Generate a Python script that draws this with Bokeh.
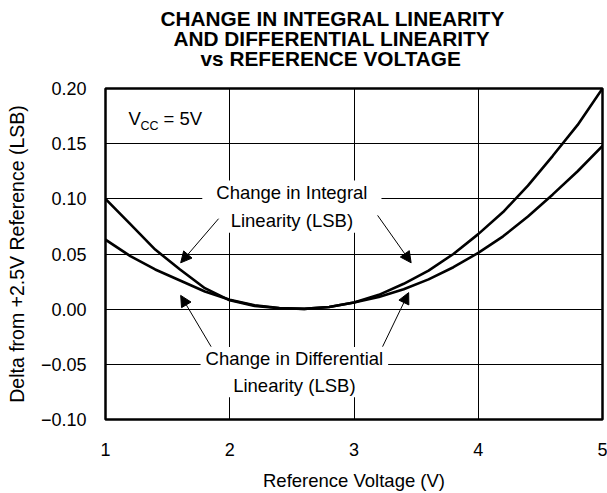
from bokeh.plotting import figure
from bokeh.models import Range1d, FixedTicker, Label, Arrow, NormalHead, Title
from bokeh.embed import file_html
from bokeh.resources import INLINE

# ---- data ----
ref_voltage = [1.0, 1.2, 1.4, 1.6, 1.8, 2.0, 2.2, 2.4, 2.6, 2.8, 3.0,
               3.2, 3.4, 3.6, 3.8, 4.0, 4.2, 4.4, 4.6, 4.8, 5.0]
integral = [0.100, 0.077, 0.054, 0.036, 0.019, 0.008, 0.003, 0.0008, 0.0003, 0.002, 0.006,
            0.013, 0.023, 0.035, 0.050, 0.068, 0.088, 0.112, 0.139, 0.167, 0.200]
differential = [0.063, 0.048, 0.036, 0.026, 0.016, 0.0085, 0.0035, 0.001, 0.0003, 0.002, 0.006,
                 0.011, 0.018, 0.027, 0.038, 0.051, 0.066, 0.084, 0.104, 0.125, 0.148]

x_ticks = [1, 2, 3, 4, 5]
y_ticks = [-0.10, -0.05, 0.0, 0.05, 0.10, 0.15, 0.20]
y_tick_labels = ["\u22120.10", "\u22120.05", "0.00", "0.05", "0.10", "0.15", "0.20"]

title_lines = ["CHANGE IN INTEGRAL LINEARITY",
               "AND DIFFERENTIAL LINEARITY",
               "vs REFERENCE VOLTAGE"]
# left offsets (px from frame left) that centre each line
title_offsets = [55, 68, 95]

x_label = "Reference Voltage (V)"
y_label = "Delta from +2.5V Reference (LSB)"

integral_label = "Change in Integral\nLinearity (LSB)"
integral_label_pos = (2.5, 0.093)
integral_arrows = [((1.91, 0.082), (1.605, 0.042)),
                   ((3.19, 0.085), (3.46, 0.042))]

diff_label = "Change in Differential\nLinearity (LSB)"
diff_label_pos = (2.52, -0.057)
diff_arrows = [((1.85, -0.034), (1.605, 0.0125)),
               ((3.23, -0.034), (3.44, 0.015))]

vcc_pos = (1.185, 0.1732)

FONT = "Liberation Sans"
FS = "18.5px"

p = figure(width=607, height=493,
           x_range=Range1d(1, 5), y_range=Range1d(-0.1, 0.2),
           output_backend="svg", toolbar_location=None,
           min_border_left=105, min_border_right=5,
           min_border_top=88, min_border_bottom=69)

p.background_fill_color = "white"
p.border_fill_color = "white"
p.outline_line_color = "black"
p.outline_line_width = 2.5

for ax in (p.xaxis, p.yaxis):
    ax.axis_line_color = None
    ax.major_tick_line_color = None
    ax.minor_tick_line_color = None
    ax.major_label_text_font = FONT
    ax.major_label_text_font_size = "18px"
    ax.major_label_text_color = "black"
    ax.axis_label_text_font = FONT
    ax.axis_label_text_font_size = FS
    ax.axis_label_text_font_style = "normal"
    ax.axis_label_text_color = "black"
p.yaxis.axis_label_text_font_size = "19.5px"

p.xaxis.ticker = FixedTicker(ticks=x_ticks)
p.yaxis.ticker = FixedTicker(ticks=y_ticks)
p.yaxis.major_label_overrides = {t: s for t, s in zip(y_ticks, y_tick_labels)}
p.xaxis.major_label_standoff = 17
p.yaxis.major_label_standoff = 13
p.xaxis.axis_label = x_label
p.yaxis.axis_label = y_label
p.xaxis.axis_label_standoff = 11
p.yaxis.axis_label_standoff = 10

p.xgrid.ticker = FixedTicker(ticks=x_ticks)
p.ygrid.ticker = FixedTicker(ticks=y_ticks)
for g in (p.xgrid, p.ygrid):
    g.grid_line_color = "black"
    g.grid_line_width = 1

p.line(ref_voltage, integral, line_color="black", line_width=2.6)
p.line(ref_voltage, differential, line_color="black", line_width=2.6)

# spacer panel between the frame and the title block
p.add_layout(Title(text=" ", standoff=-2, text_font=FONT, text_font_size=FS), "above")
for txt, off in reversed(list(zip(title_lines, title_offsets))):
    p.add_layout(Title(text=txt, align="left", offset=off, standoff=-5,
                       text_font=FONT, text_font_size="20.8px", text_font_style="bold",
                       text_color="black"), "above")

for txt, pos, pad in ((integral_label, integral_label_pos, (14, 2)),
                      (diff_label, diff_label_pos, (5, 1))):
    p.add_layout(Label(x=pos[0], y=pos[1], text=txt, text_align="center",
                       text_baseline="middle", text_font=FONT,
                       text_font_size=FS, text_color="black",
                       text_line_height=1.3,
                       background_fill_color="white", padding=pad))

for (s, e) in integral_arrows + diff_arrows:
    p.add_layout(Arrow(end=NormalHead(size=11, fill_color="black", line_color="black"),
                       x_start=s[0], y_start=s[1], x_end=e[0], y_end=e[1],
                       line_color="black", line_width=1))

p.add_layout(Label(x=vcc_pos[0], y=vcc_pos[1], text="V", text_font=FONT,
                   text_font_size=FS, text_baseline="alphabetic", text_color="black"))
p.add_layout(Label(x=vcc_pos[0], y=vcc_pos[1], text="CC", text_font=FONT,
                   text_font_size="12.5px", text_baseline="alphabetic", text_color="black",
                   x_offset=12, y_offset=-8))
p.add_layout(Label(x=vcc_pos[0], y=vcc_pos[1], text="= 5V", text_font=FONT,
                   text_font_size=FS, text_baseline="alphabetic", text_color="black",
                   x_offset=35))

open("out.html", "w").write(file_html(p, INLINE))
